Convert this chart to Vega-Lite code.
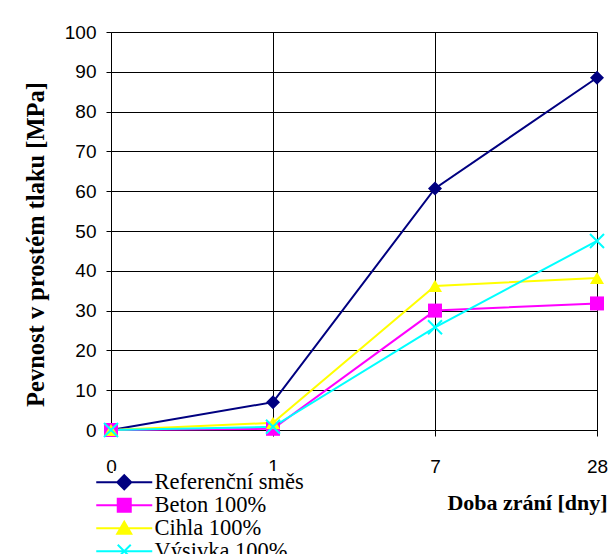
{
  "$schema": "https://vega.github.io/schema/vega-lite/v6.json",
  "autosize": {"type": "none"},
  "width": 486,
  "height": 398,
  "padding": {"left": 111, "top": 32, "right": 12, "bottom": 124},
  "background": "white",
  "config": {
    "view": {"stroke": null},
    "axis": {
      "gridColor": "black", "gridOpacity": 1, "gridWidth": 1,
      "domainColor": "black", "tickColor": "black",
      "labelColor": "black", "labelFont": "Liberation Sans", "labelFontSize": 19,
      "titleColor": "black", "titleFont": "Liberation Serif", "titleFontWeight": "bold", "titleFontSize": 22
    }
  },
  "data": {
    "values": [
      {"series": "Referenční směs", "day": "0", "value": 0},
      {"series": "Referenční směs", "day": "1", "value": 7.0},
      {"series": "Referenční směs", "day": "7", "value": 60.7},
      {"series": "Referenční směs", "day": "28", "value": 88.5},
      {"series": "Beton 100%", "day": "0", "value": 0},
      {"series": "Beton 100%", "day": "1", "value": 0.3},
      {"series": "Beton 100%", "day": "7", "value": 30.0},
      {"series": "Beton 100%", "day": "28", "value": 31.8},
      {"series": "Cihla 100%", "day": "0", "value": 0},
      {"series": "Cihla 100%", "day": "1", "value": 1.8},
      {"series": "Cihla 100%", "day": "7", "value": 36.2},
      {"series": "Cihla 100%", "day": "28", "value": 38.2},
      {"series": "Výsivka 100%", "day": "0", "value": 0},
      {"series": "Výsivka 100%", "day": "1", "value": 0.8},
      {"series": "Výsivka 100%", "day": "7", "value": 25.8},
      {"series": "Výsivka 100%", "day": "28", "value": 47.5}
    ]
  },
  "encoding": {
    "x": {
      "field": "day", "type": "ordinal", "sort": ["0", "1", "7", "28"],
      "scale": {"type": "point", "padding": 0},
      "axis": {
        "title": "Doba zrání [dny]", "labelAngle": 0, "grid": true,
        "tickSize": 6, "labelPadding": 21, "labelBaseline": "top",
        "titleX": 496, "titleY": 79, "titleAlign": "right", "titleAnchor": null, "titleBaseline": "alphabetic"
      }
    },
    "y": {
      "field": "value", "type": "quantitative",
      "scale": {"domain": [0, 100], "nice": false},
      "axis": {
        "title": "Pevnost v prostém tlaku [MPa]",
        "values": [0, 10, 20, 30, 40, 50, 60, 70, 80, 90, 100],
        "tickSize": 5, "labelPadding": 10, "grid": true, "titleFontSize": 24.5,
        "titleX": -68, "titleY": 212, "titleAngle": 270, "titleAlign": "center", "titleBaseline": "alphabetic", "titleAnchor": null
      }
    }
  },
  "layer": [
    {
      "mark": {"type": "line", "strokeWidth": 2},
      "encoding": {
        "color": {
          "field": "series", "type": "nominal",
          "scale": {"domain": ["Referenční směs", "Beton 100%", "Cihla 100%", "Výsivka 100%"], "range": ["#000080", "#FF00FF", "#FFFF00", "#00FFFF"]},
          "legend": {
            "title": null, "orient": "none", "legendX": 2, "legendY": 439,
            "padding": 0, "fillColor": "white", "strokeColor": null,
            "symbolSize": 100, "labelOffset": 19, "rowPadding": -3,
            "labelFont": "Liberation Serif", "labelFontSize": 22.5, "labelColor": "black", "labelLimit": 400,
            "symbolStrokeWidth": 2,
            "encode": {
              "symbols": {
                "update": {
                  "shape": {"signal": "datum.value === 'Referenční směs' ? 'M-5.6,0H5.6M0,-1.4L1.4,0L0,1.4L-1.4,0Z' : datum.value === 'Beton 100%' ? 'M-5.6,0H5.6M-1.3,-1.3H1.3V1.3H-1.3Z' : datum.value === 'Cihla 100%' ? 'M-5.6,0H5.6M0,-1.3L1.4,1.1L-1.4,1.1Z' : 'M-5.6,0H5.6M-1.3,-1.3L1.3,1.3M-1.3,1.3L1.3,-1.3'"},
                  "fill": {"scale": "color", "field": "value"},
                  "stroke": {"scale": "color", "field": "value"},
                  "strokeWidth": {"value": 2},
                  "opacity": {"value": 1}
                }
              }
            }
          }
        }
      }
    },
    {
      "transform": [{"filter": "datum.series === 'Referenční směs'"}],
      "mark": {"type": "point", "shape": "diamond", "filled": true, "opacity": 1, "size": 196, "color": "#000080"}
    },
    {
      "transform": [{"filter": "datum.series === 'Beton 100%'"}],
      "mark": {"type": "point", "shape": "square", "filled": true, "opacity": 1, "size": 196, "color": "#FF00FF"}
    },
    {
      "transform": [{"filter": "datum.series === 'Cihla 100%'"}],
      "mark": {"type": "point", "shape": "triangle-up", "filled": true, "opacity": 1, "size": 196, "color": "#FFFF00"}
    },
    {
      "transform": [{"filter": "datum.series === 'Výsivka 100%'"}],
      "mark": {"type": "point", "shape": "M-1,-1L1,1M-1,1L1,-1", "filled": false, "opacity": 1, "size": 196, "stroke": "#00FFFF", "strokeWidth": 2}
    }
  ]
}
